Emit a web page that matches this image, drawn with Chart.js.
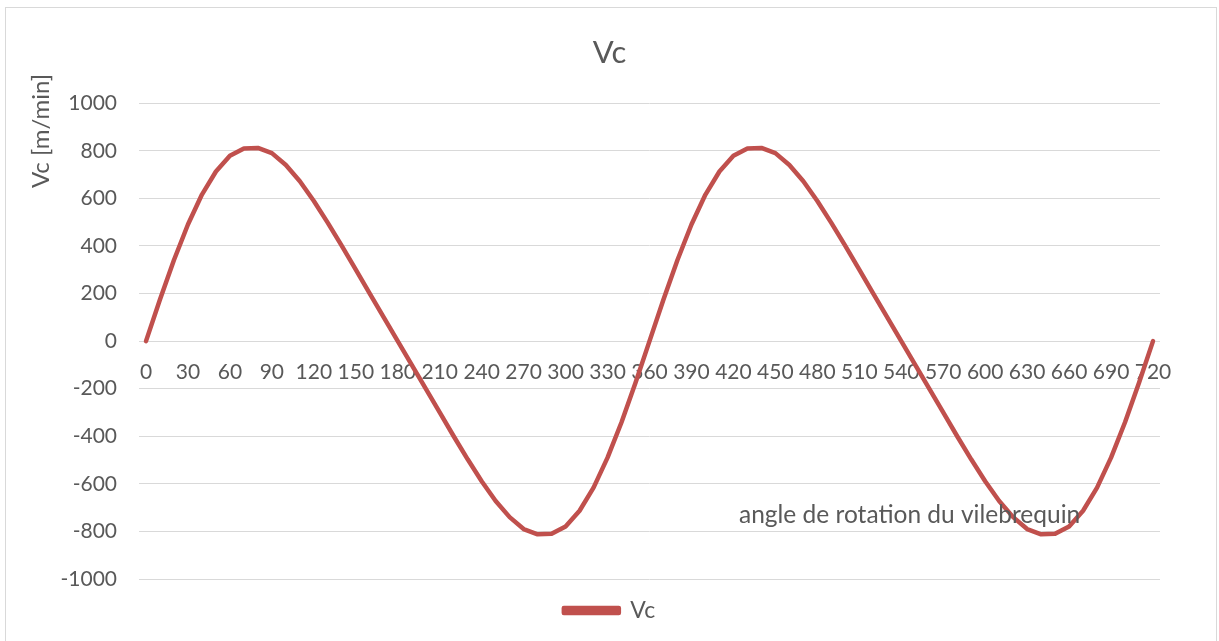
<!DOCTYPE html>
<html>
<head>
<meta charset="utf-8">
<script src="https://cdn.jsdelivr.net/npm/chart.js@4/dist/chart.umd.min.js"></script>
<style>
  html, body { margin: 0; padding: 0; background: #ffffff; }
  #frame { position: absolute; left: 5px; top: 7px; width: 1212px; height: 650px; border: 1px solid #d9d9d9; box-sizing: border-box; }
  #wrap { position: absolute; left: 0; top: 0; width: 1219px; height: 641px; }
</style>
</head>
<body>
<div id="frame"></div>
<div id="wrap"><canvas id="c" width="1219" height="641"></canvas></div>
<script>
// Crank angle (degrees), every 10°
const angles = [
  0, 10, 20, 30, 40, 50, 60, 70, 80, 90, 100, 110, 120, 130, 140, 150, 160, 170,
  180, 190, 200, 210, 220, 230, 240, 250, 260, 270, 280, 290, 300, 310, 320, 330, 340, 350,
  360, 370, 380, 390, 400, 410, 420, 430, 440, 450, 460, 470, 480, 490, 500, 510, 520, 530,
  540, 550, 560, 570, 580, 590, 600, 610, 620, 630, 640, 650, 660, 670, 680, 690, 700, 710, 720
];
// Vc [m/min]
const vc = [
  0, 175, 341, 490, 616, 713, 779, 810, 812, 790, 740, 672, 589, 497, 400, 300, 200, 100,
  0, -100, -200, -300, -400, -497, -589, -672, -740, -790, -812, -810, -779, -713, -616, -490, -341, -175,
  0, 175, 341, 490, 616, 713, 779, 810, 812, 790, 740, 672, 589, 497, 400, 300, 200, 100,
  0, -100, -200, -300, -400, -497, -589, -672, -740, -790, -812, -810, -779, -713, -616, -490, -341, -175,
  0
];
const yTicks = [-1000, -800, -600, -400, -200, 0, 200, 400, 600, 800, 1000];
const labelEvery = 30;
const chartTitle = 'Vc';
const seriesName = 'Vc';
const yTitle = 'Vc [m/min]';
const xTitle = 'angle de rotation du vilebrequin';

const FONT = 'Lato, "Open Sans", sans-serif';
const TEXT = '#595959';
const RED = '#c0504d';

const axisTitles = {
  id: 'axisTitles',
  afterDraw(chart) {
    const ctx = chart.ctx;
    ctx.save();
    ctx.fillStyle = TEXT;
    ctx.font = '24px ' + FONT;
    ctx.textBaseline = 'middle';
    ctx.save();
    ctx.translate(41, 131);
    ctx.rotate(-Math.PI / 2);
    ctx.textAlign = 'center';
    ctx.fillText(yTitle, 0, 0);
    ctx.restore();
    ctx.textAlign = 'left';
    ctx.font = '24.5px ' + FONT;
    ctx.fillText(xTitle, 739, 515);
    ctx.restore();
  }
};

new Chart(document.getElementById('c'), {
  type: 'line',
  data: {
    labels: angles,
    datasets: [{
      label: seriesName,
      data: vc,
      borderColor: RED,
      backgroundColor: RED,
      borderWidth: 4.5,
      pointRadius: 0,
      tension: 0,
      borderCapStyle: 'round',
      borderJoinStyle: 'round'
    }]
  },
  options: {
    responsive: false,
    animation: false,
    layout: { padding: { left: 0, right: 0, top: 0, bottom: 9 } },
    plugins: {
      title: {
        display: true,
        text: chartTitle,
        color: TEXT,
        font: { family: FONT, size: 31, weight: 'normal' },
        padding: { top: 34, bottom: 32 }
      },
      legend: {
        position: 'bottom',
        labels: {
          color: TEXT,
          font: { family: FONT, size: 23 },
          boxWidth: 55,
          boxHeight: 5,
          padding: 20
        }
      },
      tooltip: { enabled: false }
    },
    scales: {
      x: {
        type: 'category',
        offset: true,
        position: { y: 0 },
        grid: { display: false, drawTicks: false },
        border: { display: false },
        ticks: {
          autoSkip: false,
          maxRotation: 0,
          minRotation: 0,
          padding: 19,
          color: TEXT,
          font: { family: FONT, size: 21 },
          callback: function (v, i) {
            const a = angles[i];
            return a % labelEvery === 0 ? String(a) : '';
          }
        }
      },
      y: {
        min: yTicks[0],
        max: yTicks[yTicks.length - 1],
        afterFit: function (s) { s.width = 139; },
        afterBuildTicks: function (s) { s.ticks = yTicks.map(v => ({ value: v })); },
        grid: { color: '#d9d9d9', lineWidth: 1, drawTicks: false },
        border: { display: false },
        ticks: {
          padding: 22,
          color: TEXT,
          font: { family: FONT, size: 21 },
          callback: function (v) { return String(v); }
        }
      },
      yRight: {
        type: 'linear',
        position: 'right',
        min: yTicks[0],
        max: yTicks[yTicks.length - 1],
        afterFit: function (s) { s.width = 59; },
        grid: { display: false, drawTicks: false },
        border: { display: false },
        ticks: { display: false }
      }
    }
  },
  plugins: [axisTitles]
});
</script>
</body>
</html>
